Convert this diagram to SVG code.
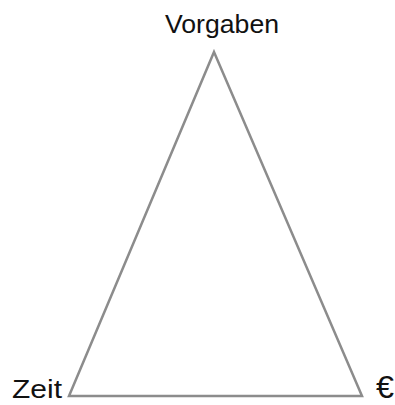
<svg xmlns="http://www.w3.org/2000/svg" width="395" height="405" viewBox="0 0 395 405">
<style>
.lbl{font-family:"Liberation Sans","DejaVu Sans",sans-serif;font-size:26px;fill:#111;}
.edge{stroke:#8c8c8c;stroke-width:2.5;fill:none;stroke-linejoin:miter;}
</style>
<rect width="395" height="405" fill="#fff"/>
<g id="connectors">
<path class="edge" d="M214,52 L362,396 L69,396 Z"/>
</g>
<g id="node-vorgaben"><text class="lbl" x="222" y="33" text-anchor="middle" textLength="114" lengthAdjust="spacingAndGlyphs">Vorgaben</text></g>
<g id="node-zeit"><text class="lbl" x="12" y="398" textLength="50" lengthAdjust="spacingAndGlyphs">Zeit</text></g>
<g id="node-euro"><text class="lbl" x="376" y="398" style="font-size:31px" textLength="18" lengthAdjust="spacingAndGlyphs">€</text></g>
</svg>
